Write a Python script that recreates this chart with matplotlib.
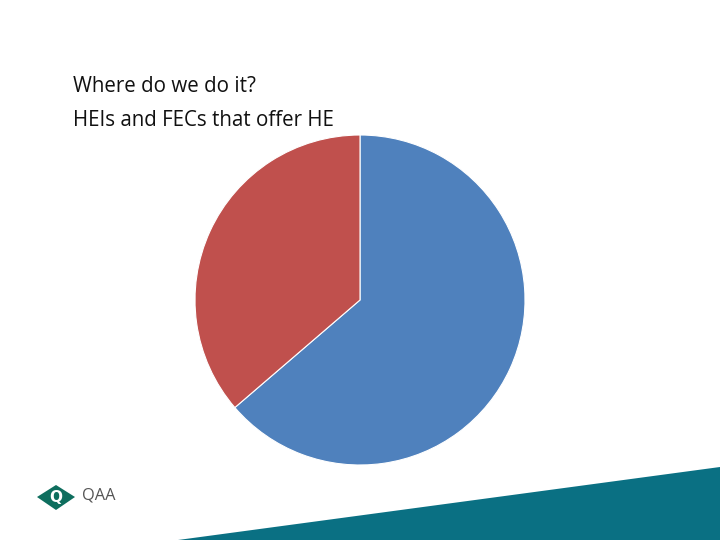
import matplotlib.pyplot as plt
from matplotlib.patches import Polygon

labels = ['HEIs', 'FECs']
values = [63.7, 36.3]
colors = ['#4F81BD', '#C0504D']

fig = plt.figure(figsize=(7.2, 5.4), dpi=100)

# pie, centre at (360, 300) px, radius 165 px
ax = fig.add_axes([195 / 720, 75 / 540, 330 / 720, 330 / 540])
ax.pie(values, colors=colors, startangle=90, counterclock=False,
       wedgeprops=dict(edgecolor='white', linewidth=0.8))
ax.set_xlim(-1.0, 1.0)
ax.set_ylim(-1.0, 1.0)
ax.set_aspect('equal')
ax.axis('off')

fig.text(73 / 720, 1 - 86 / 540, 'Where do we do it?', fontsize=14.8,
         family='Open Sans', va='center', color='#111111')
fig.text(73 / 720, 1 - 121 / 540, 'HEIs and FECs that offer HE', fontsize=14.8,
         family='Open Sans', va='center', color='#111111')

# teal band bottom right
bg = fig.add_axes([0, 0, 1, 1], zorder=-1)
bg.set_xlim(0, 720)
bg.set_ylim(540, 0)
bg.axis('off')
bg.add_patch(Polygon([[178, 540], [720, 467], [720, 540]], closed=True,
                     facecolor='#0A7083', edgecolor='none'))

# logo
bg.add_patch(Polygon([[37, 497], [56, 485], [75, 497], [56, 510]], closed=True,
                     facecolor='#0E6E5E', edgecolor='none'))
bg.text(56, 497, 'Q', ha='center', va='center', color='white', fontsize=11,
        fontweight='bold', family='DejaVu Sans')
bg.text(82, 496, 'QAA', ha='left', va='center', color='#555555', fontsize=11.8,
        family='Open Sans')

fig.savefig('out.png', dpi=100)
